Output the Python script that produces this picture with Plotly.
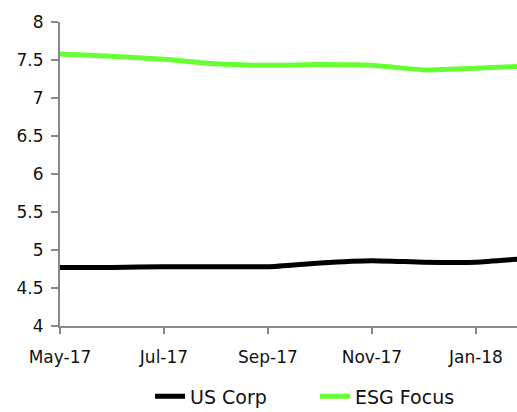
import plotly.graph_objects as go

months = ["May-17", "Jun-17", "Jul-17", "Aug-17", "Sep-17", "Oct-17", "Nov-17", "Dec-17", "Jan-18", "Feb-18"]
us_corp = [4.77, 4.77, 4.78, 4.78, 4.78, 4.83, 4.86, 4.84, 4.84, 4.89]
esg_focus = [7.58, 7.55, 7.51, 7.45, 7.43, 7.44, 7.43, 7.37, 7.39, 7.42]
tick_labels = ["May-17", "Jul-17", "Sep-17", "Nov-17", "Jan-18"]
y_ticks = [4, 4.5, 5, 5.5, 6, 6.5, 7, 7.5, 8]

fig = go.Figure()
fig.add_trace(go.Scatter(x=months, y=us_corp, name="US Corp", mode="lines",
                         line=dict(color="#000000", width=5, shape="spline", smoothing=0.5)))
fig.add_trace(go.Scatter(x=months, y=esg_focus, name="ESG Focus", mode="lines",
                         line=dict(color="#66FF33", width=5, shape="spline", smoothing=0.5)))

axis_font = dict(family="DejaVu Sans, sans-serif", size=17, color="#111111")
fig.update_layout(
    width=517, height=412,
    margin=dict(l=60, r=0, t=22, b=86, autoexpand=False),
    paper_bgcolor="white", plot_bgcolor="white",
    font=axis_font,
    showlegend=True,
    legend=dict(orientation="h", x=0.197, xanchor="left", yref="container", y=0.038,
                yanchor="middle",
                font=dict(family="DejaVu Sans, sans-serif", size=19, color="#111111"),
                entrywidth=120, entrywidthmode="pixels", traceorder="normal"),
    xaxis=dict(type="category", range=[0, 8.79], tickmode="array", tickvals=tick_labels,
               ticktext=tick_labels, showgrid=False, showline=True, linecolor="#888888",
               linewidth=2, ticks="outside", ticklen=6, tickcolor="#888888", tickwidth=1.5,
               tickfont=axis_font, zeroline=False, automargin=False, ticklabelstandoff=9),
    yaxis=dict(range=[4, 8], tickmode="array", tickvals=y_ticks,
               ticktext=[f"{v:g}" for v in y_ticks], showgrid=False, showline=True,
               linecolor="#888888", linewidth=2, ticks="outside", ticklen=7,
               tickcolor="#888888", tickwidth=1.5, tickfont=axis_font, zeroline=False,
               automargin=False, ticklabelstandoff=4),
)
fig.write_html("out.html", config={"displayModeBar": False},
               post_script="document.body.style.margin='0';")
